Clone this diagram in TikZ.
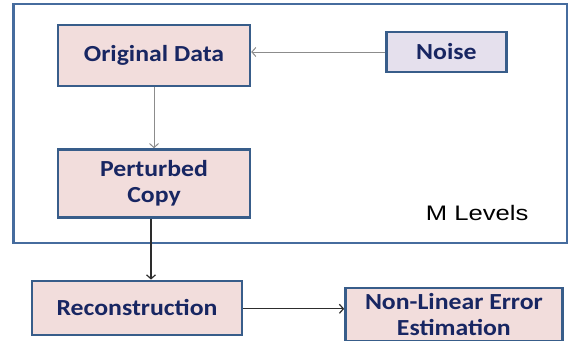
\documentclass[tikz,border=0pt]{standalone}
\usepackage{fontspec}
\usepackage{tikz}
\usetikzlibrary{arrows.meta, positioning}
\newfontfamily\boxfont[FakeStretch=1.12]{Carlito}
\newfontfamily\lblfont[FakeStretch=1.22]{Liberation Sans}
\definecolor{myblue}{RGB}{56,93,138}
\definecolor{myframe}{RGB}{70,108,158}
\definecolor{mynavy}{RGB}{24,38,98}
\definecolor{mypink}{RGB}{242,221,220}
\definecolor{mylilac}{RGB}{229,224,237}
\definecolor{mygray}{RGB}{140,140,140}
\definecolor{mydark}{RGB}{45,45,45}
\tikzset{
  stage/.style={rectangle, draw=myblue, fill=mypink, line width=2.4pt,
    align=center, inner sep=0pt, text=mynavy,
    font=\boxfont\bfseries\fontsize{23}{26}\selectfont},
  grayarrow/.style={-{Straight Barb[length=4pt,width=9pt]}, line width=1pt, color=mygray},
  darkarrow/.style={-{Straight Barb[length=4pt,width=9pt]}, line width=1.2pt, color=mydark}
}
\begin{document}
\begin{tikzpicture}[x=1pt, y=-1pt]
  \useasboundingbox (0,0) rectangle (569,340);
  % M levels frame
  \draw[myframe, line width=2.6pt] (13.5,4) rectangle (567,243);
  \node[font=\lblfont\fontsize{21}{24}\selectfont, anchor=base east] (levels) at (532,220) {M Levels};

  \node[stage, minimum width=192pt, minimum height=61pt] (orig) at (154,55.5) {Original Data};
  \node[stage, fill=mylilac, minimum width=120pt, minimum height=40pt, right=134pt of orig, yshift=3.5pt] (noise) {Noise};
  \node[stage, minimum width=192pt, minimum height=68pt, below=61pt of orig] (pert) {Perturbed\\Copy};
  \node[stage, minimum width=210pt, minimum height=54pt, below=61pt of pert, xshift=-17pt] (recon) {Reconstruction};
  \node[stage, minimum width=217pt, minimum height=53pt, right=101pt of recon, yshift=-6.5pt] (nlee) {Non-Linear Error\\Estimation};

  % Paths
  \draw[grayarrow] (noise.west) -- (noise.west -| orig.east);
  \draw[grayarrow] (orig.south) -- (pert.north);
  \draw[darkarrow] ([xshift=-3pt]pert.south) -- ([xshift=-3pt]pert.south |- recon.north);
  \draw[darkarrow] ([yshift=-1pt]recon.east) -- ([yshift=-1pt]recon.east -| nlee.west);
\end{tikzpicture}
\end{document}
